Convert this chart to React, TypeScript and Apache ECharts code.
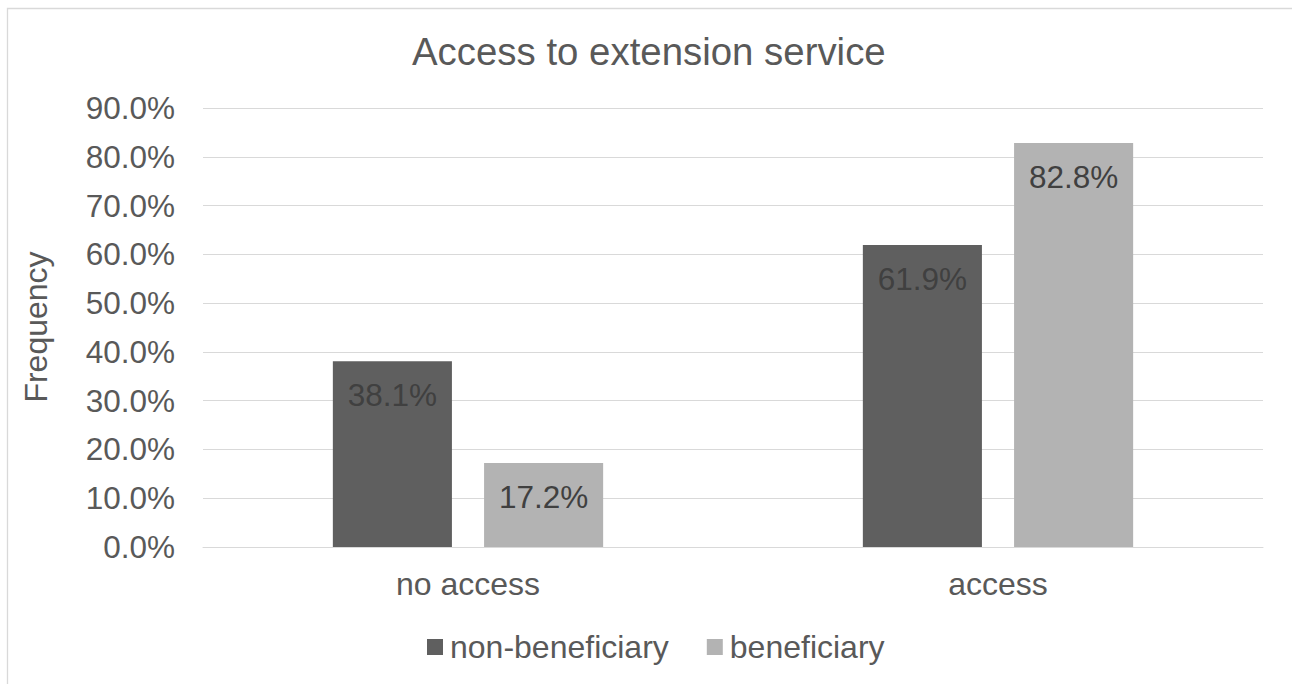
import React, { useEffect, useRef } from "react";
import * as echarts from "echarts";

const categories = ["no access", "access"];
const nonBeneficiary = [38.1, 61.9];
const beneficiary = [17.2, 82.8];
const seriesNames = ["non-beneficiary", "beneficiary"];
const yTicks = { min: 0, max: 90, interval: 10 };
const titleText = "Access to extension service";
const yAxisName = "Frequency";

const FONT = "'Liberation Sans', Arial, sans-serif";

export default function App() {
  const ref = useRef<HTMLDivElement>(null);
  useEffect(() => {
    if (!ref.current) return;
    const chart = echarts.init(ref.current, undefined, { renderer: "svg" });
    const labelCfg = {
      show: true,
      position: "insideTop",
      distance: 18,
      color: "#404040",
      fontSize: 31.5,
      fontFamily: FONT,
      formatter: (p: any) => p.value.toFixed(1) + "%",
    };
    chart.setOption({
      animation: false,
      backgroundColor: "#ffffff",
      textStyle: { fontFamily: FONT },
      title: {
        text: titleText,
        left: 412,
        top: 32,
        padding: 0,
        textStyle: { fontSize: 38.4, fontWeight: "normal", color: "#595959", fontFamily: FONT },
      },
      legend: {
        data: seriesNames,
        left: 427,
        top: 631,
        padding: 0,
        itemWidth: 16,
        itemHeight: 16,
        itemGap: 38,
        icon: "rect",
        textStyle: { fontSize: 32, color: "#595959", fontFamily: FONT, padding: [0, 0, 0, 2] },
      },
      grid: { left: 203, right: 29, top: 108, bottom: 137, containLabel: false },
      xAxis: {
        type: "category",
        data: categories,
        axisLine: { lineStyle: { color: "#d9d9d9", width: 1 } },
        axisTick: { show: false },
        axisLabel: { fontSize: 32, color: "#595959", margin: 21, fontFamily: FONT },
      },
      yAxis: {
        type: "value",
        min: yTicks.min,
        max: yTicks.max,
        interval: yTicks.interval,
        axisLine: { show: false },
        axisTick: { show: false },
        splitLine: { lineStyle: { color: "#d9d9d9", width: 1 } },
        axisLabel: {
          fontSize: 31.5,
          color: "#595959",
          margin: 28,
          fontFamily: FONT,
          formatter: (v: number) => v.toFixed(1) + "%",
        },
      },
      graphic: [
        {
          type: "rect",
          shape: { x: 7.5, y: 8.5, width: 1400, height: 800 },
          style: { fill: "none", stroke: "#d9d9d9", lineWidth: 1.3 },
          silent: true,
        },
        {
          type: "text",
          x: 36,
          y: 327,
          rotation: Math.PI / 2,
          style: {
            text: yAxisName,
            fontSize: 32,
            fill: "#595959",
            fontFamily: FONT,
            align: "center",
            verticalAlign: "middle",
          },
        },
      ],
      series: [
        {
          name: seriesNames[0],
          type: "bar",
          data: nonBeneficiary,
          itemStyle: { color: "#5f5f5f" },
          barGap: "27%",
          barCategoryGap: "49%",
          label: labelCfg,
        },
        {
          name: seriesNames[1],
          type: "bar",
          data: beneficiary,
          itemStyle: { color: "#b3b3b3" },
          barGap: "27%",
          barCategoryGap: "49%",
          label: labelCfg,
        },
      ],
    });
    return () => chart.dispose();
  }, []);
  return (
    <div
      ref={ref}
      style={{ position: "fixed", left: 0, top: 0, width: 1292, height: 684, background: "#fff" }}
    />
  );
}
